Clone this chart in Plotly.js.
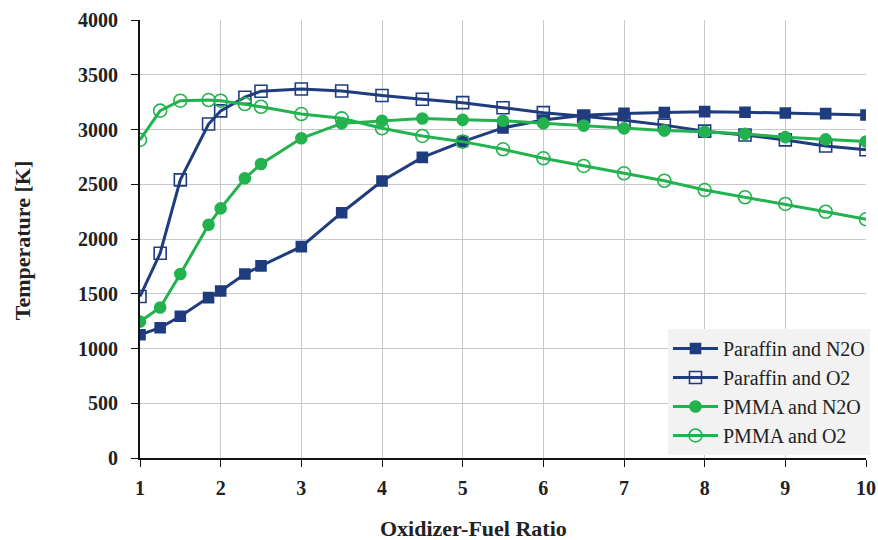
<!DOCTYPE html>
<html><head><meta charset="utf-8">
<script src="https://cdn.plot.ly/plotly-3.0.1.min.js"></script>
<style>body{margin:0;background:#fff}#c{width:878px;height:540px}</style>
</head><body><div id="c"></div>
<script>
const ofRatio = [1, 1.25, 1.5, 1.85, 2, 2.3, 2.5, 3, 3.5, 4, 4.5, 5, 5.5, 6, 6.5, 7, 7.5, 8, 8.5, 9, 9.5, 10];
const paraffinN2O = [1125, 1190, 1295, 1465, 1525, 1680, 1755, 1930, 2240, 2530, 2745, 2890, 3015, 3087, 3130, 3147, 3155, 3163, 3158, 3150, 3145, 3132];
const paraffinO2  = [1475, 1870, 2540, 3050, 3170, 3295, 3350, 3370, 3352, 3310, 3276, 3245, 3199, 3154, 3120, 3085, 3040, 2985, 2950, 2905, 2850, 2815];
const pmmaN2O     = [1245, 1375, 1680, 2130, 2280, 2555, 2685, 2920, 3056, 3080, 3100, 3088, 3080, 3056, 3035, 3010, 2990, 2980, 2960, 2930, 2910, 2890];
const pmmaO2      = [2905, 3172, 3263, 3269, 3263, 3233, 3208, 3141, 3102, 3011, 2941, 2889, 2819, 2737, 2667, 2600, 2532, 2447, 2381, 2320, 2249, 2180];
const seriesNames = ["Paraffin and N2O", "Paraffin and O2", "PMMA and N2O", "PMMA and O2"];
const xTitle = "Oxidizer-Fuel Ratio", yTitle = "Temperature [K]";

const blue = "#1F3C7E", green = "#22B24E";
const serif = "Liberation Serif";
function tr(y, name, color, symbol, size) {
  return {x: ofRatio, y: y, name: name, type: "scatter", mode: "lines+markers",
    line: {color: color, width: 3},
    marker: {symbol: symbol, size: size, color: color, line: {color: color, width: 1.6}}};
}
const data = [
  tr(paraffinN2O, seriesNames[0], blue, "square", 10),
  tr(paraffinO2, seriesNames[1], blue, "square-open", 12),
  tr(pmmaN2O, seriesNames[2], green, "circle", 11),
  tr(pmmaO2, seriesNames[3], green, "circle-open", 13)
];
const layout = {
  width: 878, height: 540,
  margin: {l: 140, r: 12, t: 20, b: 82, autoexpand: false},
  paper_bgcolor: "#fff", plot_bgcolor: "#fff",
  font: {family: serif, color: "#222"},
  xaxis: {range: [1, 10], dtick: 1, tick0: 1, showgrid: true, gridcolor: "#c8c8c8", gridwidth: 1,
    showline: true, linecolor: "#111", linewidth: 2, ticks: "outside", ticklen: 7, tickcolor: "#111",
    zeroline: false, tickfont: {family: serif, size: 20, color: "#222", weight: "bold"}, ticklabelstandoff: 4},
  yaxis: {range: [0, 4000], dtick: 500, showgrid: true, gridcolor: "#c8c8c8", gridwidth: 1,
    showline: true, linecolor: "#111", linewidth: 2, ticks: "outside", ticklen: 7, tickcolor: "#111",
    zeroline: false, tickfont: {family: serif, size: 20, color: "#222", weight: "bold"}, ticklabelstandoff: 9},
  annotations: [
    {text: "<b>" + xTitle + "</b>", xref: "paper", yref: "paper", x: 0.459, y: -0.162, xanchor: "center", yanchor: "middle",
     showarrow: false, font: {family: serif, size: 22, color: "#222"}},
    {text: "<b>" + yTitle + "</b>", xref: "paper", yref: "paper", x: -0.1625, y: 0.495, xanchor: "center", yanchor: "middle",
     textangle: -90, showarrow: false, font: {family: serif, size: 22, color: "#222"}}
  ],
  legend: {x: 1.0055, y: 0.007, xanchor: "right", yanchor: "bottom", bgcolor: "#f2f2f2",
    borderwidth: 0, font: {family: serif, size: 20, color: "#222"}, itemwidth: 45},
  showlegend: true
};
Plotly.newPlot("c", data, layout, {displayModeBar: false});
</script></body></html>
